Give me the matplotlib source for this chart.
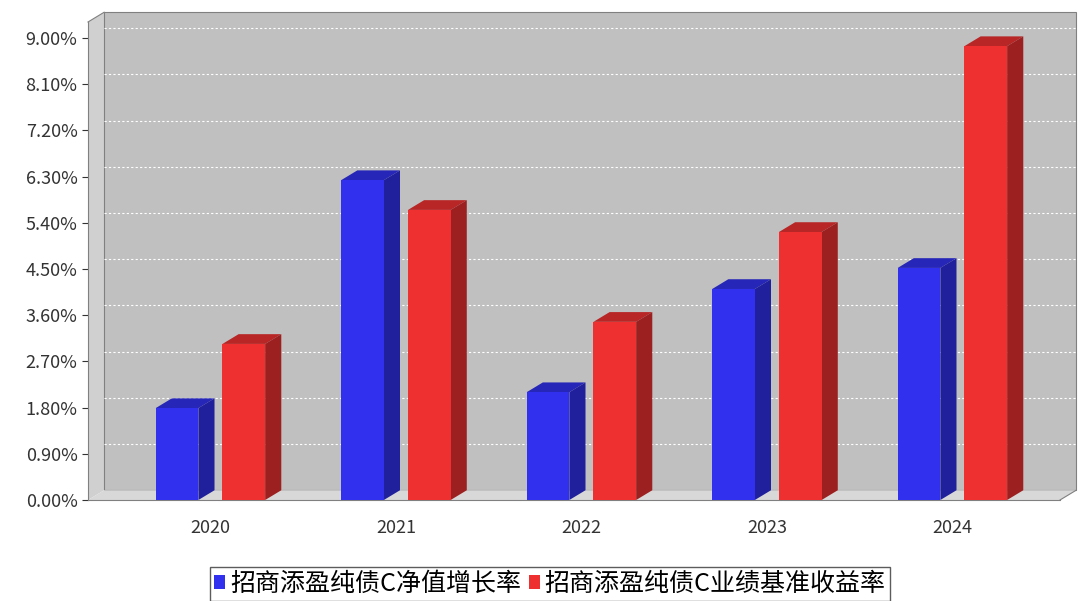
import matplotlib
matplotlib.use('Agg')
import matplotlib.pyplot as plt
from matplotlib.patches import Polygon, Rectangle
import numpy as np

plt.rcParams['font.family'] = ['Noto Sans CJK SC', 'DejaVu Sans']

years = ['2020', '2021', '2022', '2023', '2024']
nav_growth = [1.79, 6.23, 2.10, 4.11, 4.52]
benchmark = [3.04, 5.65, 3.47, 5.22, 8.84]
names = ['招商添盈纯债C净值增长率', '招商添盈纯债C业绩基准收益率']
yticks = np.arange(0, 9.01, 0.9)

fig = plt.figure(figsize=(10.78, 6.01), dpi=100)
ax = fig.add_axes([88/1078, 101/601, 972/1078, 478/601])
x0, x1 = -0.66, 4.58
y1 = 9.31
ax.set_xlim(x0, x1)
ax.set_ylim(0, y1)
dx, dy = 0.087, 0.19  # 3d depth offsets in data units

# walls
ax.add_patch(Polygon([(x0, 0), (x0 + dx, dy), (x0 + dx, y1 + dy), (x0, y1)],
                     closed=True, fc='#d0d0d0', ec='none', clip_on=False, zorder=0))
ax.add_patch(Rectangle((x0 + dx, dy), x1 - x0, y1, fc='#c0c0c0', ec='#808080', lw=0.8,
                       clip_on=False, zorder=0))
ax.add_patch(Polygon([(x0, 0), (x1, 0), (x1 + dx, dy), (x0 + dx, dy)],
                     closed=True, fc='#d8d8d8', ec='none', clip_on=False, zorder=0))
for t in yticks[1:]:
    ax.plot([x0 + dx, x1 + dx], [t + dy, t + dy], color='white', ls=(0, (2, 2)), lw=0.8,
            clip_on=False, zorder=1)
ax.plot([x0, x0 + dx], [y1, y1 + dy], color='#808080', lw=0.8, clip_on=False)
ax.plot([x1, x1 + dx], [0, dy], color='#808080', lw=0.8, clip_on=False)

w = 0.23
def bar3d(xc, h, front, top, side):
    l, r = xc - w/2, xc + w/2
    ax.add_patch(Polygon([(l, h), (r, h), (r + dx, h + dy), (l + dx, h + dy)],
                         fc=top, ec='none', zorder=3, clip_on=False))
    ax.add_patch(Polygon([(r, 0), (r + dx, dy), (r + dx, h + dy), (r, h)],
                         fc=side, ec='none', zorder=3, clip_on=False))
    ax.add_patch(Rectangle((l, 0), w, h, fc=front, ec='none', zorder=4))

for i in range(len(years)):
    bar3d(i - 0.18, nav_growth[i], '#3030ee', '#2626b8', '#20209c')
    bar3d(i + 0.18, benchmark[i], '#ee3030', '#b82626', '#9c2020')

for s in ['top', 'right']:
    ax.spines[s].set_visible(False)
ax.spines['left'].set_color('#808080')
ax.spines['bottom'].set_color('#808080')
ax.set_xticks(range(len(years)))
ax.set_xticklabels(years)
ax.set_yticks(yticks)
ax.set_yticklabels(['%.2f%%' % t for t in yticks])
ax.tick_params(colors='#333333', labelsize=13, length=4)
ax.tick_params(axis='x', length=0, pad=14)

h1 = Rectangle((0, 0), 1, 1, fc='#3030ee')
h2 = Rectangle((0, 0), 1, 1, fc='#ee3030')
fig.legend([h1, h2], names, loc='lower center', bbox_to_anchor=(0.51, -0.02), ncol=2,
           fontsize=18, frameon=True, fancybox=False, edgecolor='#333333',
           handlelength=0.45, handleheight=0.45, handletextpad=0.2, columnspacing=0.3,
           borderpad=0.15)
fig.savefig('out.png', dpi=100)
